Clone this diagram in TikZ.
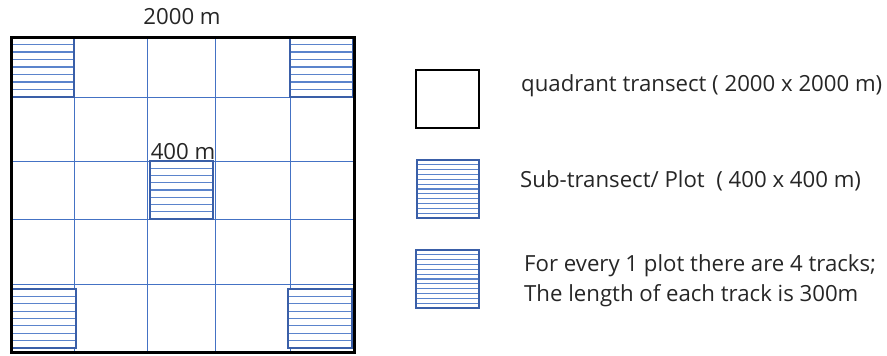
\documentclass[tikz,border=0pt]{standalone}
\usepackage{fontspec}
\setmainfont{Open Sans}
\usetikzlibrary{positioning}
\definecolor{gridblue}{HTML}{4472C4}
\definecolor{plotblue}{HTML}{3A5FA8}
\definecolor{hatchblue}{HTML}{5B84CC}

% hatched plot: x1, y1, x2, y2, number of inner lines
\newcommand{\hatchbox}[5]{%
  \fill[white] (#1,#2) rectangle (#3,#4);
  \foreach \k in {1,...,#5}
    \draw[hatchline] (#1,{#2+\k*(#4-#2)/(#5+1)}) -- (#3,{#2+\k*(#4-#2)/(#5+1)});
  \draw[plotedge] (#1,#2) rectangle (#3,#4);
}

\begin{document}
\begin{tikzpicture}[x=1pt,y=-1pt,
    gridline/.style={gridblue,line width=0.9pt},
    hatchline/.style={hatchblue,line width=1.1pt},
    plotedge/.style={plotblue,line width=1.1pt},
    label/.style={font=\fontsize{22.2}{30}\selectfont,text=black!85,inner sep=0pt}]

  \useasboundingbox (0,0) rectangle (887,356);

  % ---- Grid of the quadrant ----------------------------------
  \foreach \gx in {74,147,215,290}
    \draw[gridline] (\gx,37) -- (\gx,352);
  \foreach \gy in {97,161,219,284}
    \draw[gridline] (12,\gy) -- (354,\gy);

  % ---- Plots (sub-transects) ---------------------------------
  \hatchbox{12}{37}{74}{97}{7}
  \hatchbox{290}{37}{353}{97}{7}
  \hatchbox{150}{161}{213}{219}{7}
  \hatchbox{12}{289}{76}{348}{7}
  \hatchbox{288}{289}{352}{348}{7}

  % ---- Quadrant border ---------------------------------------
  \draw[black,line width=3pt] (11,37) rectangle (354,352);

  % Size labels
  \node[label] (side) at (182,17) {2000 m};
  \node[label,anchor=south] (plotside) at (183,160) {400 m};

  % ---- Legend ------------------------------------------------
  \draw[black,line width=2.4pt] (416,70) rectangle (479,128);
  \node[label,anchor=west] (quadtxt) at (521,86) {quadrant transect ( 2000 x 2000 m)};

  \hatchbox{417}{160}{479}{218}{11}
  \node[label,anchor=west] (plottxt) at (520,181) {Sub-transect/ Plot~~( 400 x 400 m)};

  \hatchbox{416}{250}{479}{308}{11}
  \node[label,anchor=west,align=left] (tracktxt) at (524,281)
    {For every 1 plot there are 4 tracks;\\The length of each track is 300m};

\end{tikzpicture}
\end{document}
